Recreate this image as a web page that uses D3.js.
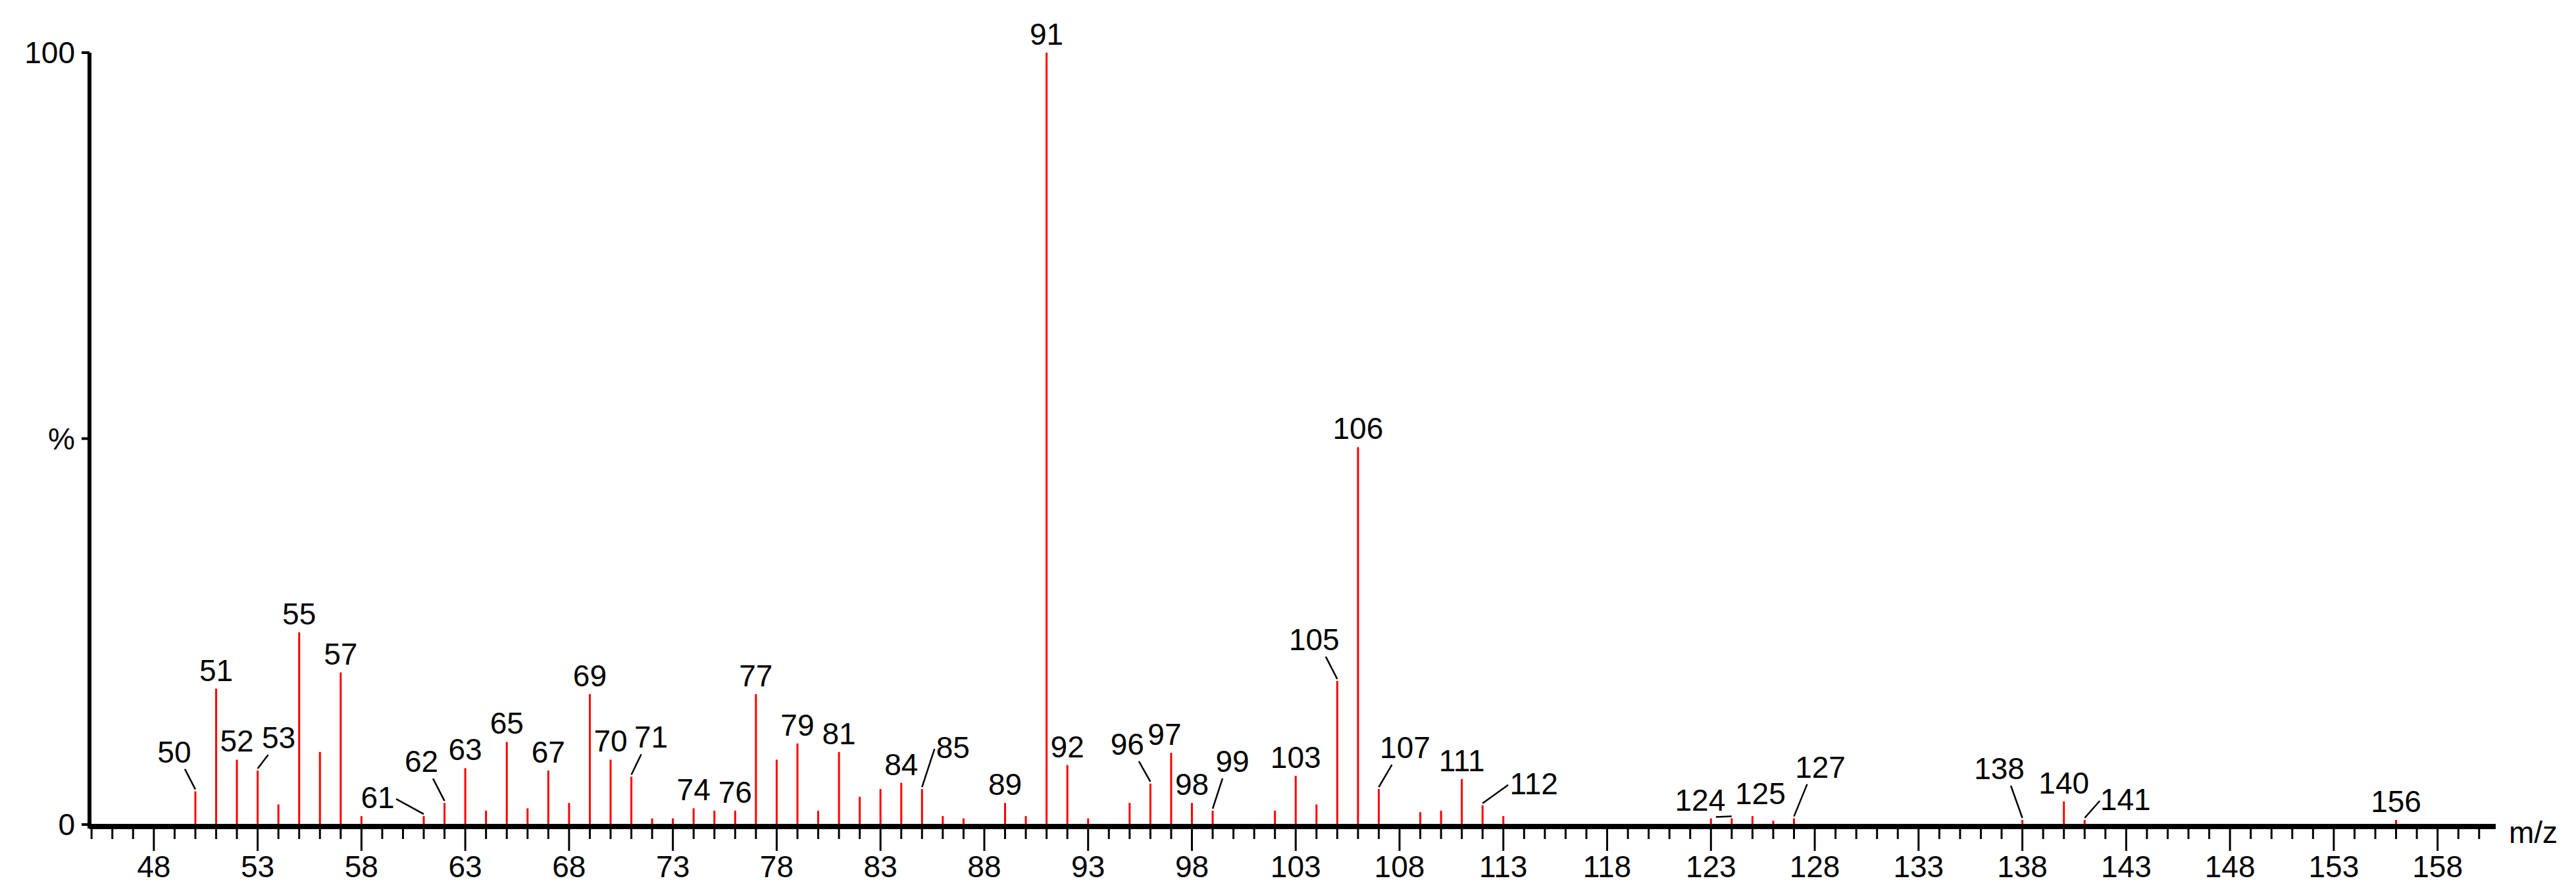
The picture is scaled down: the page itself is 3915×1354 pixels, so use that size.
<!DOCTYPE html>
<html>
<head>
<meta charset="utf-8">
<script src="https://cdn.jsdelivr.net/npm/d3@7"></script>
<style>
  body { margin: 0; background: #fff; }
  text { font-family: "Liberation Sans Narrow", "Liberation Sans", Arial, sans-serif; fill: #000; }
</style>
</head>
<body>
<svg id="chart"></svg>
<script>
// m/z values and relative intensities (%)
const mzValues = [50, 51, 52, 53, 54, 55, 56, 57, 58, 61, 62, 63, 64, 65, 66, 67, 68, 69, 70, 71, 72, 73, 74, 75, 76, 77, 78, 79, 80, 81, 82, 83, 84,
  85, 86, 87, 89, 90, 91, 92, 93, 95, 96, 97, 98, 99, 102, 103, 104, 105, 106, 107, 109, 110, 111, 112, 113,
  123, 124, 125, 126, 127, 138, 140, 141, 156];
const intensities = [4.3, 17.6, 8.4, 7.0, 2.6, 24.9, 9.4, 19.7, 1.1, 1.1, 2.8, 7.3, 1.8, 10.7, 2.1, 7.0, 2.8, 16.9, 8.4, 6.2, 0.8, 0.8, 2.1, 1.8, 1.8, 16.9, 8.4, 10.5, 1.8, 9.4, 3.6, 4.6, 5.4,
  4.6, 1.1, 0.8, 2.8, 1.1, 100, 7.7, 0.8, 2.8, 5.3, 9.3, 2.8, 1.8, 1.8, 6.3, 2.6, 18.6, 48.9, 4.6, 1.6, 1.8, 5.9, 2.5, 1.1,
  0.8, 0.8, 1.1, 0.5, 0.8, 0.6, 3.0, 0.6, 0.6];
// peaks that carry a label
const labelledPeaks = [50, 51, 52, 53, 55, 57, 61, 62, 63, 65, 67, 69, 70, 71, 74, 76, 77, 79, 81, 84, 85, 89, 91, 92,
  96, 97, 98, 99, 103, 105, 106, 107, 111, 112, 124, 125, 127, 138, 140, 141, 156];
const xTickValues = d3.range(48, 159, 5);

// label nudges (px) for crowded labels; leader drawn when set
const labelNudge = {
  50: [-32, -32], 53: [32, -22], 61: [-70, 0], 62: [-35, -35], 71: [30, -32], 85: [47, -35],
  96: [-35, -32], 97: [-10, 0], 99: [30, -47], 105: [-35, -35], 107: [40, -35], 112: [78, -5],
  124: [-48, 0], 125: [12, -6], 127: [40, -50], 138: [-35, -50], 141: [62, -3]
};
const leaderPeaks = [50, 53, 61, 62, 71, 85, 96, 99, 105, 107, 112, 124, 127, 138, 141];

const width = 3915, height = 1354;
const margin = { left: 136, right: 122, top: 80, bottom: 101 };
const fontSize = 46;

const svg = d3.select("#chart").attr("width", width).attr("height", height);

const x = d3.scaleLinear().domain([44.9, 160.8]).range([margin.left, width - margin.right]);
const y = d3.scaleLinear().domain([0, 100]).range([height - margin.bottom, margin.top]);
const base = y(0);

// peaks
svg.append("g").selectAll("line")
  .data(mzValues)
  .join("line")
  .attr("x1", d => x(d)).attr("x2", d => x(d))
  .attr("y1", base).attr("y2", (d, i) => y(intensities[i]))
  .attr("stroke", "#ff0000")
  .attr("stroke-width", 3);

// x axis: minor ticks every unit, long ticks every 5
const xAxis = svg.append("g");
xAxis.append("line")
  .attr("x1", margin.left).attr("x2", width - margin.right)
  .attr("y1", base + 3).attr("y2", base + 3)
  .attr("stroke", "#000").attr("stroke-width", 8);
xAxis.selectAll(".minor")
  .data(d3.range(45, 161))
  .join("line")
  .attr("x1", d => x(d)).attr("x2", d => x(d))
  .attr("y1", base).attr("y2", d => base + (xTickValues.includes(d) ? 40 : 22))
  .attr("stroke", "#000").attr("stroke-width", 3);
xAxis.selectAll(".tl")
  .data(xTickValues)
  .join("text")
  .attr("x", d => x(d)).attr("y", base + 80)
  .attr("text-anchor", "middle")
  .attr("font-size", fontSize)
  .text(d => d);
svg.append("text")
  .attr("x", width - margin.right + 20).attr("y", base + 28)
  .attr("font-size", fontSize)
  .text("m/z");

// y axis
const yAxis = svg.append("g");
yAxis.append("line")
  .attr("x1", margin.left).attr("x2", margin.left)
  .attr("y1", margin.top).attr("y2", base + 6)
  .attr("stroke", "#000").attr("stroke-width", 6);
yAxis.selectAll(".yt")
  .data([0, 50, 100])
  .join("line")
  .attr("x1", margin.left - 12).attr("x2", margin.left)
  .attr("y1", d => y(d)).attr("y2", d => y(d))
  .attr("stroke", "#000").attr("stroke-width", 4);
yAxis.selectAll(".yl")
  .data([["0", 0], ["%", 50], ["100", 100]])
  .join("text")
  .attr("x", margin.left - 22).attr("y", d => y(d[1]) + 16)
  .attr("text-anchor", "end")
  .attr("font-size", fontSize)
  .text(d => d[0]);

// peak labels
const lbl = svg.append("g");
labelledPeaks.forEach(m => {
  const v = intensities[mzValues.indexOf(m)];
  const px = x(m), py = y(v);
  const [dx, dy] = labelNudge[m] || [0, 0];
  const lx = px + dx, ly = py - 12 + dy;
  lbl.append("text")
    .attr("x", lx).attr("y", ly)
    .attr("text-anchor", "middle")
    .attr("font-size", fontSize)
    .text(m);
  if (leaderPeaks.includes(m)) {
    const halfW = String(m).length * 11;
    const sx = Math.abs(dx) > halfW + 15 ? lx - Math.sign(dx) * (halfW + 6) : lx - Math.sign(dx) * Math.min(Math.abs(dx) * 0.5, halfW);
    const sy = Math.abs(dx) > halfW + 15 ? ly - 14 : ly + 10;
    lbl.append("line")
      .attr("x1", sx).attr("y1", sy)
      .attr("x2", px).attr("y2", py - 3)
      .attr("stroke", "#000").attr("stroke-width", 2.5);
  }
});
</script>
</body>
</html>
